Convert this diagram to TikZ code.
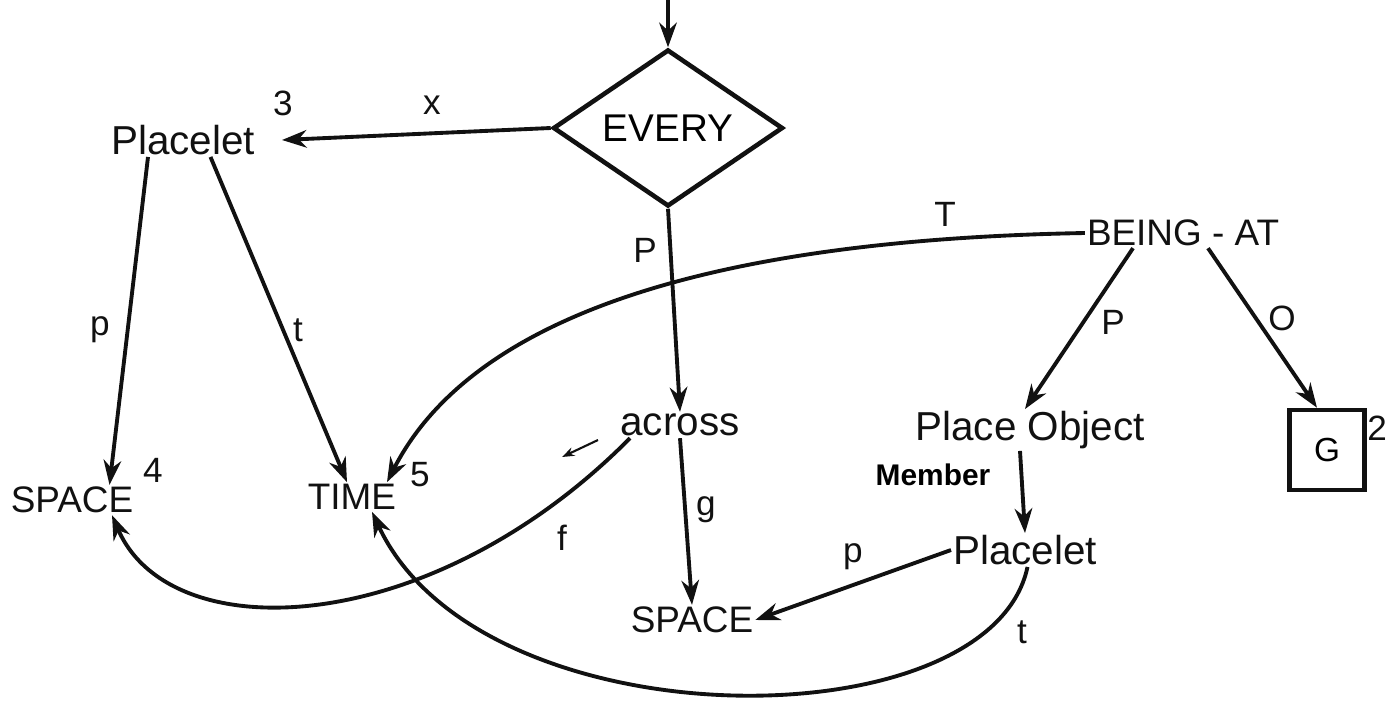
\documentclass[tikz,border=0pt]{standalone}
\usepackage{fontspec}
\setmainfont{Liberation Sans}
\usetikzlibrary{arrows.meta,positioning,shapes.geometric}
\definecolor{Ink}{HTML}{111111}

\begin{document}
\begin{tikzpicture}[
      x=0.02cm,y=-0.02cm,
      word/.style={inner sep=1pt,font=\fontsize{23}{25}\selectfont,text=Ink},
      caps/.style={inner sep=1pt,font=\fontsize{21}{23}\selectfont,text=Ink},
      sup/.style={inner sep=0pt,font=\fontsize{20}{22}\selectfont,text=Ink},
      lab/.style={inner sep=1pt,font=\fontsize{20}{22}\selectfont,text=Ink},
      quant/.style={diamond,draw=Ink,line width=2.6pt,minimum width=4.6cm,
        minimum height=2.24cm,inner sep=0pt,font=\fontsize{22}{24}\selectfont},
      val/.style={draw=Ink,line width=2.6pt,minimum width=1.5cm,minimum height=1.6cm,
        font=\fontsize{19}{21}\selectfont},
      arrow/.style={-{Stealth[length=14pt,width=10pt,inset=4.5pt]},line width=2.2pt,color=Ink}
    ]
  \useasboundingbox (0,0) rectangle (1392,700);

  % nodes
  \coordinate (entry) at (668,0);
  \node[quant] (every) at (668,128) {EVERY};
  \node[word] (placeletA) at (183,140) {Placelet};
  \node[sup] (n3) at (283,103) {3};
  \node[caps] (spaceA) at (72,500) {SPACE};
  \node[sup] (n4) at (153,470) {4};
  \node[caps] (timeA) at (352,497) {TIME};
  \node[sup] (n5) at (420,475) {5};
  \node[word] (across) at (680,425) {across};
  \node[caps] (spaceB) at (692,620) {SPACE};
  \node[caps] (being) at (1183,233) {BEING - AT};
  \node[word] (placeobj) at (1030,430) {Place Object};
  \node[inner sep=1pt,font=\fontsize{17}{19}\selectfont\bfseries] (member) at (933,475) {Member};
  \node[word] (placeletB) at (1025,550) {Placelet};
  \node[val] (gbox) at (1327,450) {G};
  \node[sup] (n2) at (1377,428) {2};

  % labels
  \node[lab] (lx) at (432,105) {x};
  \node[lab] (lpA) at (100,330) {p};
  \node[lab] (ltA) at (298,330) {t};
  \node[lab] (lP) at (645,250) {P};
  \node[lab] (lT) at (945,214) {T};
  \node[lab] (lPb) at (1113,322) {P};
  \node[lab] (lO) at (1282,318) {O};
  \node[lab] (lg) at (706,510) {g};
  \node[lab] (lf) at (562,538) {f};
  \node[lab] (lpB) at (853,557) {p};
  \node[lab] (ltB) at (1022,632) {t};

  % connectors
  \draw[arrow] (entry) -- (every.north);
  \draw[arrow] (every.west) -- ([xshift=0.5cm]placeletA.east);
  \draw[arrow] ([xshift=-0.7cm]placeletA.south) -- ([xshift=0.75cm]spaceA.north);
  \draw[arrow] ([xshift=0.55cm]placeletA.south) -- ([xshift=-0.1cm]timeA.north);
  \draw[arrow] (every.south) -- (across.north);
  \draw[arrow] (across.south) -- (spaceB.north);
  \draw[arrow] ([xshift=-1cm]across.south) .. controls (430,640) and (170,650) .. ([xshift=0.8cm]spaceA.south);
  \draw[arrow] (being.west) .. controls (700,240) and (470,320) .. ([xshift=0.7cm]timeA.north);
  \draw[arrow] ([xshift=-1cm]being.south) -- ([xshift=-0.1cm]placeobj.north);
  \draw[arrow] ([xshift=0.5cm]being.south) -- ([xshift=-0.2cm]gbox.north);
  \draw[arrow] ([xshift=-0.2cm]placeobj.south) -- (placeletB.north);
  \draw[arrow] (placeletB.west) -- (spaceB.east);
  \draw[arrow] ([xshift=0.05cm]placeletB.south) .. controls (990,745) and (480,745) .. ([xshift=0.4cm]timeA.south);
  \coordinate (strayA) at (598,440);
  \coordinate (strayB) at (562,457);
  \draw[-{Stealth[length=7pt,width=5pt]},line width=1.2pt,color=Ink] (strayA) -- (strayB);
\end{tikzpicture}
\end{document}
